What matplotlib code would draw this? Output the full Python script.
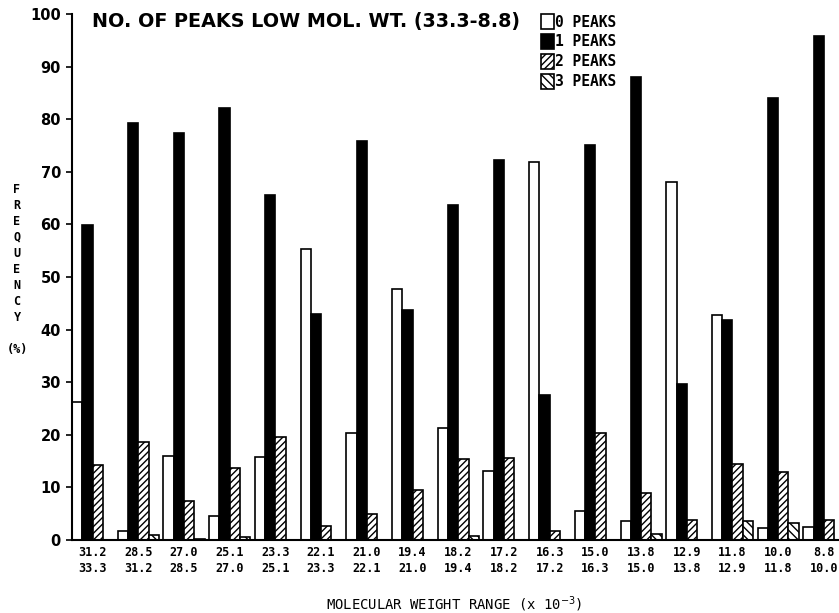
import numpy as np
import matplotlib
matplotlib.use("Agg")
import matplotlib.pyplot as plt
from matplotlib.patches import Patch

# rangos de peso molecular (x 10^-3)
rango_sup = ['31.2', '28.5', '27.0', '25.1', '23.3', '22.1', '21.0', '19.4', '18.2',
             '17.2', '16.3', '15.0', '13.8', '12.9', '11.8', '10.0', '8.8']
rango_inf = ['33.3', '31.2', '28.5', '27.0', '25.1', '23.3', '22.1', '21.0', '19.4',
             '18.2', '17.2', '16.3', '15.0', '13.8', '12.9', '11.8', '10.0']

# frecuencia (%) por numero de picos
picos_0 = [26.2, 1.8, 16.0, 4.5, 15.8, 55.4, 20.3, 47.8, 21.3, 13.2, 71.8, 5.6, 3.7, 68.0, 42.7, 2.3, 2.4]
picos_1 = [59.8, 79.2, 77.3, 82.2, 65.6, 43.0, 75.8, 43.8, 63.7, 72.2, 27.6, 75.1, 88.1, 29.7, 41.9, 84.0, 95.8]
picos_2 = [14.2, 18.7, 7.4, 13.7, 19.6, 2.6, 4.9, 9.5, 15.4, 15.6, 1.7, 20.3, 8.9, 3.8, 14.5, 13.0, 3.8]
picos_3 = [0.0, 1.0, 0.2, 0.5, 0.0, 0.0, 0.0, 0.0, 0.8, 0.0, 0.0, 0.0, 1.2, 0.0, 3.7, 3.2, 0.0]

etiquetas = ['0 PEAKS', '1 PEAKS', '2 PEAKS', '3 PEAKS']

plt.rcParams['hatch.linewidth'] = 1.0

fig = plt.figure(figsize=(8.39, 6.13), dpi=100)
ax = fig.add_axes([72 / 839, 73 / 613, 1 - 72 / 839, 526 / 613])

x = np.arange(len(rango_sup))
w = 0.225

ax.bar(x - 1.5 * w, picos_0, w, color='white', edgecolor='black', linewidth=1.2)
ax.bar(x - 0.5 * w, picos_1, w, color='black', edgecolor='black', linewidth=1.2)
ax.bar(x + 0.5 * w, picos_2, w, color='white', edgecolor='black', linewidth=1.2, hatch='/////')
ax.bar(x + 1.5 * w, picos_3, w, color='white', edgecolor='black', linewidth=1.2, hatch='\\\\\\\\')

ax.set_xlim(-2 * w, 16.33)
ax.set_ylim(0, 100)

for s in ['top', 'right']:
    ax.spines[s].set_visible(False)
ax.spines['left'].set_linewidth(1.5)
ax.spines['bottom'].set_linewidth(1.5)

ax.set_yticks(np.arange(0, 101, 10))
ax.tick_params(axis='y', length=4, width=1.2, labelsize=10.5, pad=4)
for t in ax.get_yticklabels():
    t.set_fontweight('bold')

ax.set_xticks(x)
ax.set_xticklabels([a + '\n' + b for a, b in zip(rango_sup, rango_inf)],
                   family='DejaVu Sans Mono', fontweight='bold', fontsize=8.5, linespacing=1.35)
ax.tick_params(axis='x', length=0, pad=4)

# titulo
fig.text(92 / 839, 1 - 21 / 613, 'NO. OF PEAKS LOW MOL. WT. (33.3-8.8)',
         fontsize=13.8, fontweight='bold', va='center', ha='left')

# etiqueta eje y (letras apiladas)
fig.text(17 / 839, 1 - 269 / 613, 'F\nR\nE\nQ\nU\nE\nN\nC\nY\n\n(%)',
         family='DejaVu Sans Mono', fontweight='bold', fontsize=8.5,
         ha='center', va='center', linespacing=1.3)

# etiqueta eje x
fig.text(454 / 839, 1 - 604 / 613, 'MOLECULAR WEIGHT RANGE (x 10$^{-3}$)',
         family='DejaVu Sans Mono', fontsize=10, ha='center', va='center')

# leyenda
handles = [Patch(facecolor='white', edgecolor='black', linewidth=1.2),
           Patch(facecolor='black', edgecolor='black', linewidth=1.2),
           Patch(facecolor='white', edgecolor='black', linewidth=1.2, hatch='/////'),
           Patch(facecolor='white', edgecolor='black', linewidth=1.2, hatch='\\\\\\\\')]
leg = fig.legend(handles, etiquetas, loc='upper left', bbox_to_anchor=(534 / 839, 1 - 7 / 613),
                 frameon=False, borderpad=0, handlelength=0.9, handleheight=1.2,
                 handletextpad=0.05, labelspacing=0.3,
                 prop={'family': 'DejaVu Sans Mono', 'weight': 'bold', 'size': 10.5})

fig.savefig('out.png', dpi=100)
